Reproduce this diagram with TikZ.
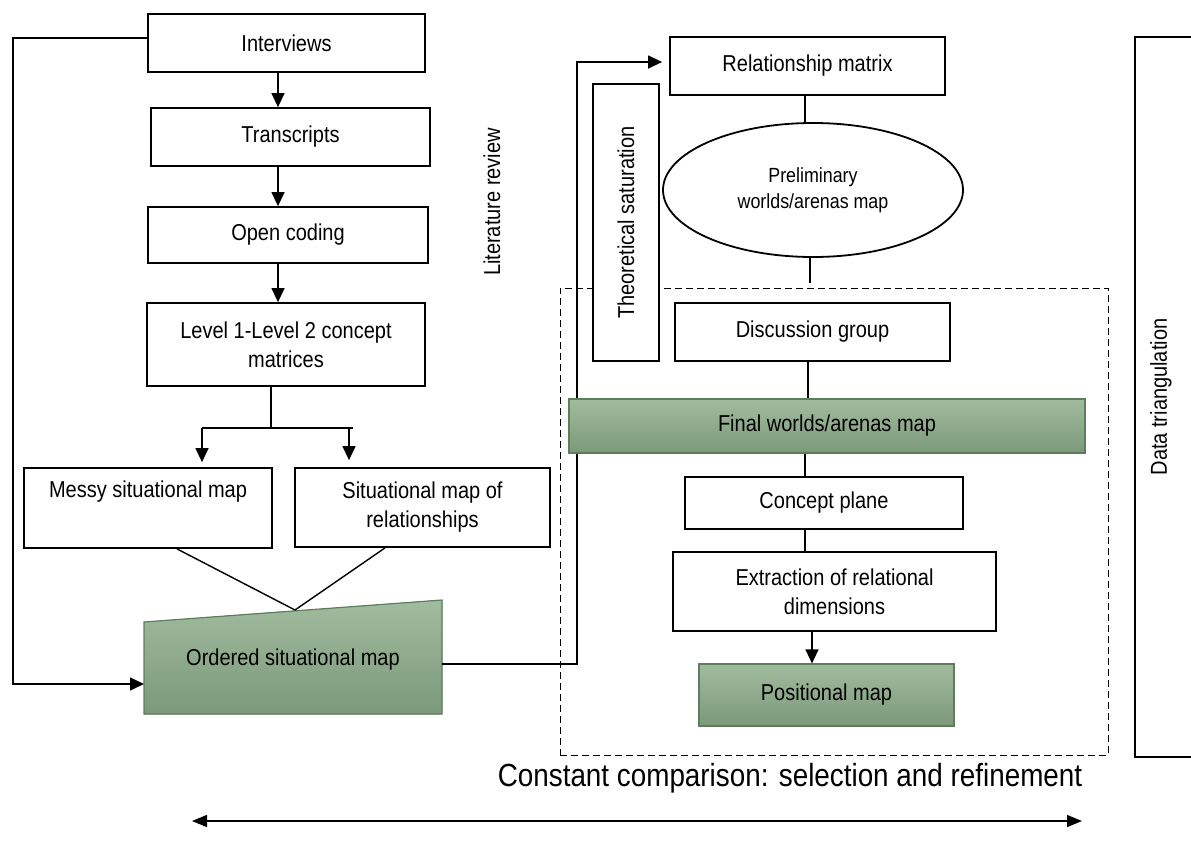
\documentclass[tikz,border=0pt]{standalone}
\usepackage{fontspec}
\setmainfont[FakeStretch=0.87]{Liberation Sans}
\usepackage{xcolor}
\usetikzlibrary{arrows.meta,shapes.geometric}

\definecolor{mapgreentop}{HTML}{A1BB9F}
\definecolor{mapgreenbot}{HTML}{7C997A}
\definecolor{mapedge}{HTML}{5E7D5C}

\tikzset{
  stepbox/.style={draw, line width=1.8pt, fill=white, align=center, inner sep=2pt,
    font=\fontsize{23}{29}\selectfont},
  mapbox/.style={stepbox, draw=mapedge, line width=1.2pt,
    top color=mapgreentop, bottom color=mapgreenbot},
  link/.style={line width=1.4pt},
  arr/.style={link, -{Triangle[length=14pt,width=13pt]}},
  sidetext/.style={rotate=90, font=\fontsize{23}{29}\selectfont},
}

\begin{document}
\begin{tikzpicture}[x=1pt,y=-1pt]
\useasboundingbox (0,0) rectangle (1191,846);
\clip (0,0) rectangle (1191,846);

%draw dashed frame
\node[draw, dashed, dash pattern=on 7pt off 4pt, line width=1pt,
  minimum width=548pt, minimum height=467pt] (phase) at (834,521.5) {};

%draw left column
\node[stepbox, minimum width=277pt, minimum height=58pt] (interviews) at (286.5,43) {Interviews};
\node[stepbox, minimum width=279pt, minimum height=58pt] (transcripts) at (290.5,137) {Transcripts};
\node[stepbox, minimum width=280pt, minimum height=56pt] (opencoding) at (288,235) {Open coding};
\node[stepbox, minimum width=278pt, minimum height=83pt] (levels) at (286,344.5)
  {Level 1-Level 2 concept\\matrices};
\node[stepbox, minimum width=248pt, minimum height=80pt] (messy) at (148,508)
  {Messy situational map\\ \strut};
\node[stepbox, minimum width=255pt, minimum height=79pt] (situational) at (422.5,507.5)
  {Situational map of\\relationships};

%draw ordered map
\coordinate (ordSW) at (144,714);
\coordinate (ordSE) at (442,714);
\coordinate (ordNE) at (442,600);
\coordinate (ordNW) at (144,622);
\filldraw[draw=mapedge, line width=1.2pt, top color=mapgreentop, bottom color=mapgreenbot]
  (ordSW) -- (ordSE) -- (ordNE) -- (ordNW) -- cycle;
\node[font=\fontsize{23}{29}\selectfont] (ordered) at (293,660) {Ordered situational map};
\coordinate (ordIn) at (144,684);
\coordinate (ordOut) at (442,664);
\coordinate (merge) at (295,610);

%draw left connectors
\coordinate (lcol) at (278,0);
\draw[arr] (interviews.south -| lcol) -- (transcripts.north -| lcol);
\draw[arr] (transcripts.south -| lcol) -- (opencoding.north -| lcol);
\draw[arr] (opencoding.south -| lcol) -- (levels.north -| lcol);
\coordinate (split) at (271,428);
\coordinate (brL) at (202,428);
\coordinate (brR) at (353,428);
\draw[link] (levels.south -| split) -- (split);
\draw[link] (brL) -- (brR);
\draw[arr, shorten >=5pt] (brL) -- (brL |- messy.north);
\draw[arr, shorten >=7pt] ([xshift=-4pt]brR) -- ([xshift=-4pt]brR |- situational.north);
\draw[link] ([xshift=29pt]messy.south) -- (merge);
\draw[link] ([xshift=-37.5pt]situational.south) -- (merge);
\draw[arr] ([yshift=5pt]interviews.west) -- ++(-134,0) |- (ordIn);

%draw right column
\node[sidetext] (litreview) at (492,202) {Literature review};
\node[stepbox, minimum width=275pt, minimum height=58pt] (relmatrix) at (807.5,66) {Relationship matrix};
\draw[arr, shorten >=7pt] (ordOut) -- ++(135,0) |- ([yshift=4pt]relmatrix.west);
\node[stepbox, rotate=90, minimum width=277pt, minimum height=66pt] (saturation) at (626,222.5)
  {Theoretical saturation};
\node[stepbox, ellipse, inner sep=0pt, minimum width=300pt, minimum height=134pt,
  font=\fontsize{20.5}{26}\selectfont] (prelim) at (813,190) {Preliminary\\worlds/arenas map};
\node[stepbox, minimum width=275pt, minimum height=58pt] (discussion) at (812.5,332) {Discussion group};
\node[mapbox, minimum width=516pt, minimum height=54pt] (finalmap) at (827,426) {Final worlds/arenas map};
\node[stepbox, minimum width=278pt, minimum height=52pt] (concept) at (824,503) {Concept plane};
\node[stepbox, minimum width=323pt, minimum height=79pt] (extraction) at (834.5,591.5)
  {Extraction of relational\\dimensions};
\node[mapbox, minimum width=255pt, minimum height=62pt] (positional) at (826.5,695) {Positional map};

%draw right connectors
\coordinate (rcol) at (805,0);
\draw[link] (relmatrix.south -| rcol) -- (prelim.north -| rcol);
\draw[link] (prelim.south -| 810,0) -- ++(0,25);
\draw[link] (discussion.south -| 808,0) -- (finalmap.north -| 808,0);
\draw[link] (finalmap.south -| rcol) -- (concept.north -| rcol);
\draw[link] (concept.south -| rcol) -- (extraction.north -| rcol);
\draw[arr] (extraction.south -| 812,0) -- (positional.north -| 812,0);

%draw data triangulation
\node[draw, line width=2.2pt, rotate=90, minimum width=720pt, minimum height=70pt] (triang) at (1170,397) {};
\node[sidetext] (triangtext) at (1161,397) {Data triangulation};

%draw constant comparison
\node[font=\fontsize{32}{36}\selectfont] (comparison) at (790,778)
  {Constant comparison: selection and refinement};
\coordinate (cmpL) at (192,821);
\coordinate (cmpR) at (1082,821);
\draw[link, {Triangle[length=15pt,width=12pt]}-{Triangle[length=15pt,width=12pt]}] (cmpL) -- (cmpR);
\end{tikzpicture}
\end{document}
